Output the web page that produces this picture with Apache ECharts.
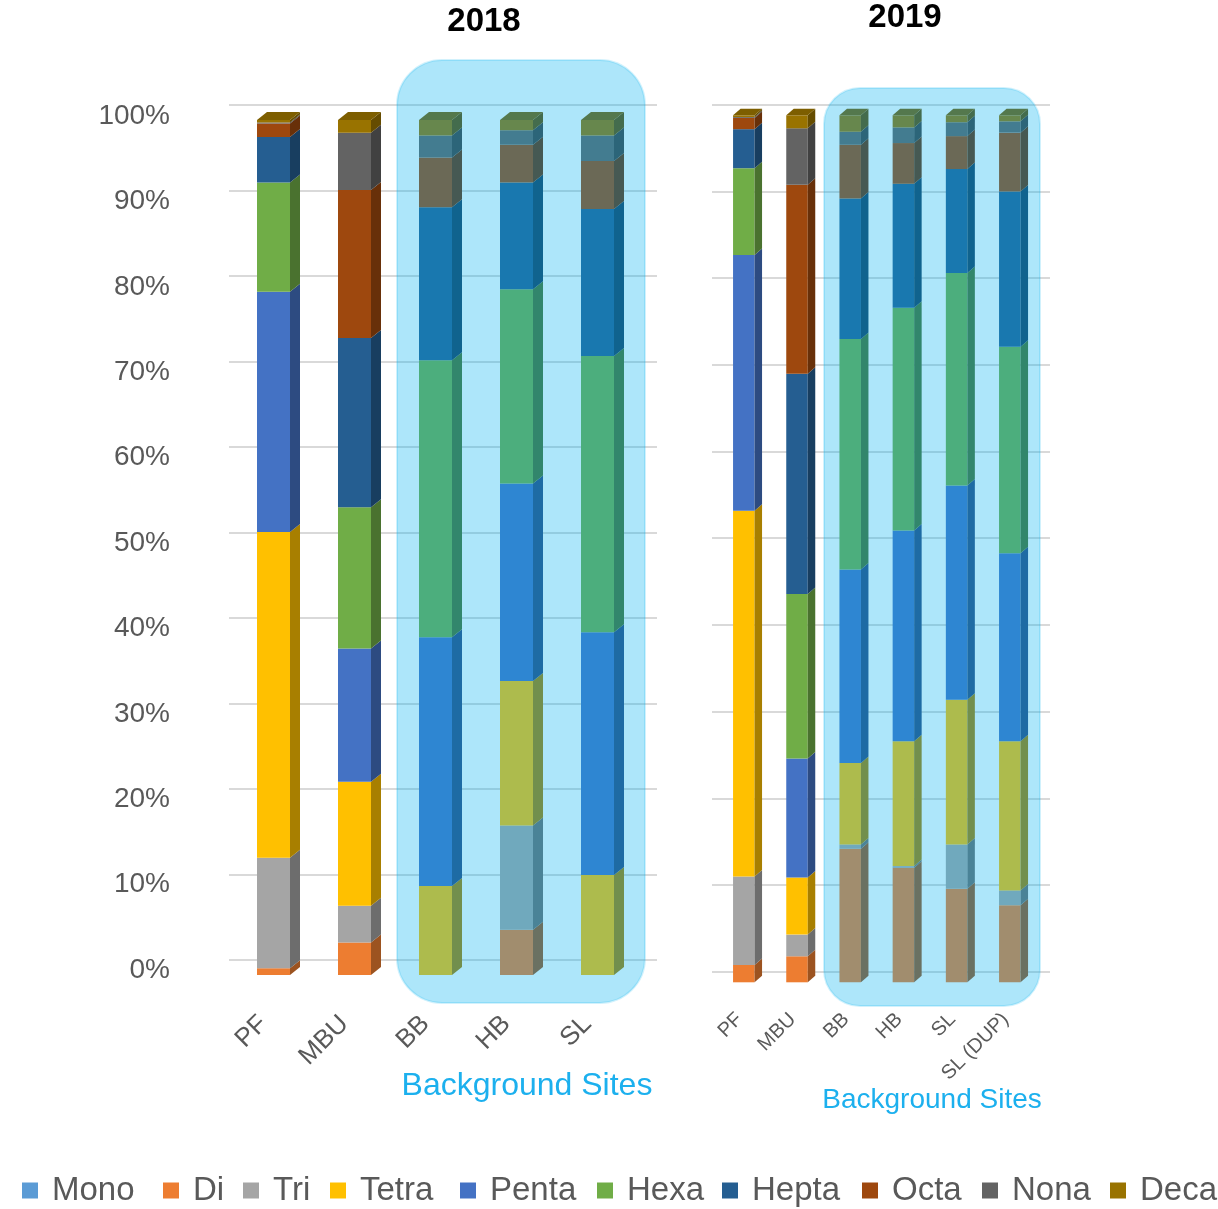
<!DOCTYPE html>
<html>
<head>
<meta charset="utf-8">
<script src="https://cdn.jsdelivr.net/npm/echarts@6/dist/echarts.min.js"></script>
<style>
  html, body { margin: 0; padding: 0; background: #ffffff; }
  #chart { width: 1218px; height: 1209px; }
</style>
</head>
<body>
<div id="chart"></div>
<script>
// Homologue groups and their fill colours
const homologues = ['Mono', 'Di', 'Tri', 'Tetra', 'Penta', 'Hexa', 'Hepta', 'Octa', 'Nona', 'Deca'];
const homologueColors = ['#5b9bd5', '#ed7d31', '#a5a5a5', '#ffc000', '#4472c4', '#70ad47', '#255e91', '#9e480e', '#636363', '#997300'];

// Sampling sites
const sites2018 = ['PF', 'MBU', 'BB', 'HB', 'SL'];
const sites2019 = ['PF', 'MBU', 'BB', 'HB', 'SL', 'SL (DUP)'];

// Percentage axis ticks
const percentTicks = [0, 10, 20, 30, 40, 50, 60, 70, 80, 90, 100];

// 2018 composition (%), order: PF, MBU, BB, HB, SL
const mono2018  = [0, 0, 0, 0, 0];
const di2018    = [0.8, 3.8, 0, 5.3, 0];
const tri2018   = [12.9, 4.3, 0, 12.2, 0];
const tetra2018 = [38.1, 14.5, 10.4, 16.9, 11.7];
const penta2018 = [28.1, 15.6, 29.1, 23.1, 28.4];
const hexa2018  = [12.8, 16.5, 32.4, 22.7, 32.3];
const hepta2018 = [5.3, 19.8, 17.9, 12.5, 17.2];
const octa2018  = [1.6, 17.3, 5.8, 4.4, 5.6];
const nona2018  = [0.1, 6.7, 2.6, 1.7, 3.0];
const deca2018  = [0.3, 1.5, 1.8, 1.2, 1.8];

// 2019 composition (%), order: PF, MBU, BB, HB, SL, SL (DUP)
const mono2019  = [0, 0, 0, 0, 0, 0];
const di2019    = [2.0, 3.0, 15.4, 13.2, 10.8, 8.9];
const tri2019   = [10.2, 2.5, 0.5, 0.2, 5.1, 1.7];
const tetra2019 = [42.2, 6.6, 9.4, 14.4, 16.7, 17.2];
const penta2019 = [29.5, 13.7, 22.3, 24.3, 24.7, 21.7];
const hexa2019  = [10.0, 19.0, 26.6, 25.7, 24.5, 23.8];
const hepta2019 = [4.5, 25.4, 16.2, 14.3, 12.0, 17.9];
const octa2019  = [1.3, 21.8, 6.2, 4.7, 3.8, 6.8];
const nona2019  = [0.1, 6.5, 1.5, 1.8, 1.6, 1.3];
const deca2019  = [0.2, 1.5, 1.9, 1.4, 0.8, 0.7];

const values2018 = [mono2018, di2018, tri2018, tetra2018, penta2018, hexa2018, hepta2018, octa2018, nona2018, deca2018];
const values2019 = [mono2019, di2019, tri2019, tetra2019, penta2019, hexa2019, hepta2019, octa2019, nona2019, deca2019];

const FONT = "'Liberation Sans', Arial, sans-serif";
const AXIS_TEXT = '#595959';

function shade(hex, f) {
  const n = parseInt(hex.slice(1), 16);
  const r = Math.round(((n >> 16) & 255) * f);
  const g = Math.round(((n >> 8) & 255) * f);
  const b = Math.round((n & 255) * f);
  return 'rgb(' + r + ',' + g + ',' + b + ')';
}

// Build [category, base, top, isTopmost] rows for one homologue, stacking on lower groups
function stackRows(values, k) {
  return values[k].map(function (v, i) {
    let base = 0;
    for (let j = 0; j < k; j++) base += values[j][i];
    let topIdx = -1;
    for (let j = 0; j < values.length; j++) if (values[j][i] > 0) topIdx = j;
    return [i, base, base + v, topIdx === k ? 1 : 0];
  });
}

// Draws a pseudo-3D column segment: front face, right side and (for the last segment) the top
function prismRenderer(color, w, dx, dy) {
  const sideColor = shade(color, 0.66);
  const topColor = shade(color, 0.82);
  return function (params, api) {
    const i = api.value(0), b = api.value(1), t = api.value(2), isTop = api.value(3);
    if (t - b <= 0) return null;
    const pt = api.coord([i, t]);
    const pb = api.coord([i, b]);
    const x0 = pt[0] - w / 2, x1 = pt[0] + w / 2, yt = pt[1], yb = pb[1];
    const children = [
      { type: 'rect', shape: { x: x0, y: yt, width: w, height: yb - yt }, style: { fill: color } },
      { type: 'polygon', shape: { points: [[x1, yt], [x1 + dx, yt + dy], [x1 + dx, yb + dy], [x1, yb]] }, style: { fill: sideColor } }
    ];
    if (isTop) {
      children.push({ type: 'polygon', shape: { points: [[x0, yt], [x1, yt], [x1 + dx, yt + dy], [x0 + dx, yt + dy]] }, style: { fill: topColor } });
    }
    return { type: 'group', children: children };
  };
}

const series = [];
homologues.forEach(function (name, k) {
  series.push({
    name: name, type: 'custom', xAxisIndex: 1, yAxisIndex: 1,
    itemStyle: { color: homologueColors[k] },
    encode: { x: 0, y: [1, 2] },
    renderItem: prismRenderer(homologueColors[k], 33, 10, -8),
    data: stackRows(values2018, k),
    silent: true
  });
  series.push({
    name: name, type: 'custom', xAxisIndex: 4, yAxisIndex: 4,
    itemStyle: { color: homologueColors[k] },
    encode: { x: 0, y: [1, 2] },
    renderItem: prismRenderer(homologueColors[k], 21.5, 7.5, -6.5),
    data: stackRows(values2019, k),
    silent: true
  });
});

const wallY = {
  type: 'value', min: percentTicks[0], max: percentTicks[percentTicks.length - 1], interval: 10,
  axisLabel: { show: false }, axisLine: { show: false }, axisTick: { show: false },
  splitLine: { show: true, lineStyle: { color: '#d9d9d9', width: 2 } }
};
const plainY = { type: 'value', min: 0, max: 100, show: false, splitLine: { show: false } };

// Legend: one entry per homologue, placed along the bottom row
const legendLeft = [22, 163, 243, 330, 460, 597, 722, 862, 982, 1110];
const legends = homologues.map(function (name, k) {
  return {
    left: legendLeft[k], top: 1174, padding: 0, itemGap: 0,
    itemWidth: 16, itemHeight: 16, icon: 'rect',
    data: [name], selectedMode: false,
    textStyle: { fontSize: 33, color: AXIS_TEXT, fontFamily: FONT, padding: [0, 0, 0, 9] }
  };
});

const option = {
  animation: false,
  backgroundColor: '#ffffff',
  textStyle: { fontFamily: FONT },
  legend: legends,
  grid: [
    { left: 229, width: 428, top: 105, height: 855 },      // 0: 2018 back wall
    { left: 233, width: 405, top: 120, height: 855 },      // 1: 2018 columns
    { left: 223, width: 405, top: 116, height: 854 },      // 2: 2018 axis labels
    { left: 712, width: 338, top: 104.7, height: 867 },    // 3: 2019 back wall
    { left: 717.2, width: 319.2, top: 115.3, height: 867 },// 4: 2019 columns
    { left: 713, width: 319.2, top: 115.3, height: 867 }   // 5: 2019 axis labels
  ],
  xAxis: [
    { gridIndex: 0, type: 'value', show: false },
    { gridIndex: 1, type: 'category', data: sites2018, show: false },
    { gridIndex: 2, type: 'category', data: sites2018,
      axisLine: { show: false }, axisTick: { show: false },
      axisLabel: { rotate: 45, margin: 50, fontSize: 26, color: AXIS_TEXT, fontFamily: FONT, interval: 0 } },
    { gridIndex: 3, type: 'value', show: false },
    { gridIndex: 4, type: 'category', data: sites2019, show: false },
    { gridIndex: 5, type: 'category', data: sites2019,
      axisLine: { show: false }, axisTick: { show: false },
      axisLabel: { rotate: 45, margin: 34, fontSize: 20, color: AXIS_TEXT, fontFamily: FONT, interval: 0 } }
  ],
  yAxis: [
    Object.assign({ gridIndex: 0 }, wallY),
    Object.assign({ gridIndex: 1 }, plainY),
    { gridIndex: 2, type: 'value', min: 0, max: 100, interval: 10,
      axisLine: { show: false }, axisTick: { show: false }, splitLine: { show: false },
      axisLabel: { formatter: '{value}%', fontSize: 28, color: AXIS_TEXT, margin: 53, fontFamily: FONT } },
    Object.assign({ gridIndex: 3 }, wallY),
    Object.assign({ gridIndex: 4 }, plainY),
    { gridIndex: 5, type: 'value', min: 0, max: 100, show: false }
  ],
  series: series,
  graphic: [
    { type: 'rect', z: 100, silent: true,
      shape: { x: 397, y: 60, width: 248, height: 943, r: 45 },
      style: { fill: 'rgba(0,176,240,0.32)', stroke: 'rgba(0,176,240,0.18)', lineWidth: 2 } },
    { type: 'rect', z: 100, silent: true,
      shape: { x: 824, y: 88, width: 216, height: 918, r: 36 },
      style: { fill: 'rgba(0,176,240,0.32)', stroke: 'rgba(0,176,240,0.18)', lineWidth: 2 } },
    { type: 'text', z: 101, x: 484, y: 22,
      style: { text: '2018', fontSize: 33, fontWeight: 'bold', fill: '#000000', fontFamily: FONT, align: 'center', verticalAlign: 'middle' } },
    { type: 'text', z: 101, x: 905, y: 18,
      style: { text: '2019', fontSize: 33, fontWeight: 'bold', fill: '#000000', fontFamily: FONT, align: 'center', verticalAlign: 'middle' } },
    { type: 'text', z: 101, x: 527, y: 1086,
      style: { text: 'Background Sites', fontSize: 32, fill: '#1cb0ee', fontFamily: FONT, align: 'center', verticalAlign: 'middle' } },
    { type: 'text', z: 101, x: 932, y: 1100,
      style: { text: 'Background Sites', fontSize: 28, fill: '#1cb0ee', fontFamily: FONT, align: 'center', verticalAlign: 'middle' } }
  ]
};

const chart = echarts.init(document.getElementById('chart'), null, { renderer: 'canvas' });
chart.setOption(option);
</script>
</body>
</html>
